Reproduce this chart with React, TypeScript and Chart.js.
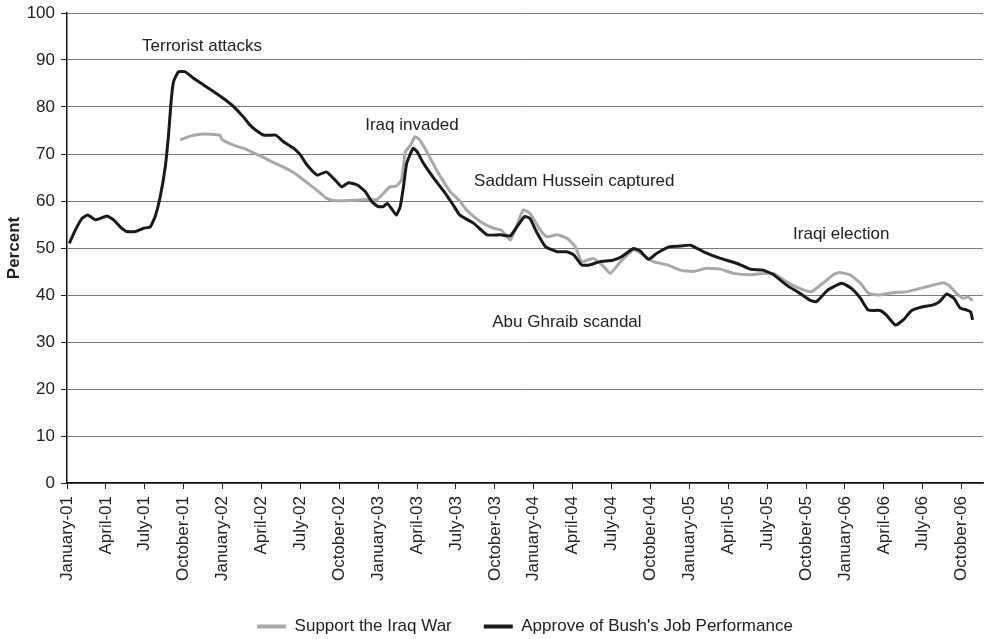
import React, { useEffect, useRef } from "react";
import { Chart, registerables } from "chart.js";

Chart.register(...registerables);

// Months elapsed since January 2001
const tickMonths = [0, 3, 6, 9, 12, 15, 18, 21, 24, 27, 30, 33, 36, 39, 42, 45, 48, 51, 54, 57, 60, 63, 66, 69];
const tickLabels = [
  "January-01", "April-01", "July-01", "October-01",
  "January-02", "April-02", "July-02", "October-02",
  "January-03", "April-03", "July-03", "October-03",
  "January-04", "April-04", "July-04", "October-04",
  "January-05", "April-05", "July-05", "October-05",
  "January-06", "April-06", "July-06", "October-06",
];

const yTicksMax = 100;

// [month since Jan-01, percent]
const approveSeries: [number, number][] = [
  [0.18, 51.0], [0.64, 53.8], [1.16, 56.3], [1.59, 57.0], [2.18, 56.0], [2.57, 56.3], [3.08, 56.8],
  [3.6, 56.0], [4.1, 54.5], [4.63, 53.5], [5.27, 53.5], [5.9, 54.2], [6.42, 54.5], [6.8, 56.7],
  [7.19, 60.9], [7.58, 67.3], [7.84, 74.4], [8.04, 81.5], [8.22, 85.4], [8.6, 87.5], [9.12, 87.5],
  [9.76, 86.1], [10.53, 84.7], [11.3, 83.3], [12.07, 81.8], [12.85, 80.1], [13.6, 77.9], [14.1, 76.2],
  [14.6, 75.0], [15.2, 74.0], [16.1, 74.0], [16.7, 72.6], [17.5, 71.2], [18.0, 69.8], [18.5, 67.7],
  [19.3, 65.5], [20.0, 66.2], [20.8, 64.1], [21.2, 63.0], [21.7, 63.9], [22.4, 63.4], [23.0, 62.0],
  [23.5, 59.9], [24.0, 58.8], [24.4, 58.8], [24.7, 59.5], [25.1, 58.1], [25.4, 57.0], [25.7, 58.8],
  [25.95, 63.0], [26.2, 68.0], [26.7, 71.2], [27.0, 70.5], [27.5, 68.0], [28.3, 64.8], [29.0, 62.3],
  [29.8, 59.1], [30.3, 57.0], [31.35, 55.3], [32.4, 52.8], [33.4, 52.8], [34.2, 52.6], [34.7, 54.5],
  [35.3, 56.7], [35.7, 56.3], [36.2, 53.5], [36.9, 50.3], [37.8, 49.2], [38.55, 49.2], [39.1, 48.5],
  [39.7, 46.4], [40.3, 46.4], [41.1, 47.1], [42.1, 47.4], [42.8, 48.2], [43.7, 49.9], [44.2, 49.4],
  [44.85, 47.6], [45.5, 48.9], [46.5, 50.3], [47.3, 50.4], [48.1, 50.6], [49.1, 49.2], [50.4, 47.8],
  [51.7, 46.7], [52.7, 45.5], [53.7, 45.3], [54.5, 44.3], [55.5, 42.1], [56.5, 40.4], [57.3, 38.9],
  [57.8, 38.6], [58.7, 41.1], [59.75, 42.5], [60.5, 41.4], [61.2, 39.3], [61.8, 36.8], [62.7, 36.7],
  [63.2, 35.7], [63.9, 33.6], [64.5, 34.7], [65.15, 36.7], [66.0, 37.5], [66.8, 37.9], [67.3, 38.6],
  [67.85, 40.2], [68.4, 39.3], [68.9, 37.2], [69.4, 36.8], [69.7, 36.4], [69.85, 34.7],
];

const supportSeries: [number, number][] = [
  [8.73, 73.0], [9.5, 73.8], [10.28, 74.2], [11.05, 74.2], [11.8, 74.0], [11.95, 73.1], [12.85, 71.9],
  [13.9, 70.9], [14.9, 69.6], [15.7, 68.5], [16.7, 67.2], [17.5, 66.0], [18.0, 65.0], [18.8, 63.3],
  [19.5, 61.8], [20.0, 60.6], [20.6, 60.1], [21.8, 60.1], [23.1, 60.3], [23.9, 60.3], [24.4, 61.6],
  [24.9, 63.0], [25.4, 63.2], [25.8, 64.5], [26.1, 70.5], [26.5, 71.9], [26.85, 73.7], [27.2, 73.0],
  [27.75, 70.5], [28.5, 66.6], [28.8, 65.2], [29.55, 62.0], [30.3, 60.0], [30.8, 58.1], [31.9, 55.6],
  [32.9, 54.2], [33.5, 53.8], [34.2, 51.7], [34.7, 54.9], [35.2, 58.1], [35.7, 57.4], [36.5, 53.8],
  [37.0, 52.4], [37.8, 52.8], [38.55, 52.1], [39.2, 50.3], [39.7, 47.1], [40.6, 47.8], [41.4, 46.0],
  [41.9, 44.6], [42.7, 47.1], [43.7, 49.6], [44.5, 48.4], [45.2, 47.1], [46.3, 46.4], [47.3, 45.3],
  [48.3, 45.0], [49.3, 45.7], [50.4, 45.5], [51.4, 44.6], [52.7, 44.3], [53.7, 44.6], [54.5, 44.6],
  [55.5, 42.8], [56.5, 41.4], [57.4, 40.7], [58.3, 42.5], [59.1, 44.3], [59.6, 44.8], [60.4, 44.3],
  [61.2, 42.5], [61.8, 40.4], [62.7, 40.0], [63.7, 40.5], [64.8, 40.7], [65.8, 41.4], [66.8, 42.1],
  [67.6, 42.6], [68.0, 42.1], [68.6, 40.4], [69.1, 39.3], [69.5, 39.6], [69.85, 38.8],
];

const annotationTexts = ["Terrorist attacks", "Iraq invaded", "Saddam Hussein captured", "Iraqi election", "Abu Ghraib scandal"];
const annotationMonths = [5.79, 23.0, 31.4, 56.0, 32.8];
const annotationValues = [93.0, 76.2, 64.1, 53.0, 34.1];

const FONT = "'Liberation Sans', Arial, Helvetica, sans-serif";

export default function App() {
  const ref = useRef<HTMLCanvasElement | null>(null);

  useEffect(() => {
    if (!ref.current) return;
    const eventLabels = {
      id: "eventLabels",
      afterDatasetsDraw(chart: any) {
        const { ctx, scales } = chart;
        ctx.save();
        ctx.font = `17px ${FONT}`;
        ctx.fillStyle = "#222";
        ctx.textAlign = "left";
        ctx.textBaseline = "middle";
        annotationTexts.forEach((t, i) => {
          ctx.fillText(t, scales.x.getPixelForValue(annotationMonths[i]), scales.y.getPixelForValue(annotationValues[i]));
        });
        ctx.restore();
      },
    };

    const chart = new Chart(ref.current, {
      type: "line",
      data: {
        datasets: [
          {
            label: "Support the Iraq War",
            data: supportSeries.map(([x, y]) => ({ x, y })),
            borderColor: "#a9a9a9",
            backgroundColor: "#a9a9a9",
            borderWidth: 3,
            pointRadius: 0,
            tension: 0.15,
            order: 1,
          },
          {
            label: "Approve of Bush's Job Performance",
            data: approveSeries.map(([x, y]) => ({ x, y })),
            borderColor: "#1a1a1a",
            backgroundColor: "#1a1a1a",
            borderWidth: 3,
            pointRadius: 0,
            tension: 0.15,
            order: 0,
          },
        ],
      },
      options: {
        responsive: false,
        animation: false,
        layout: { padding: { top: 13, right: 2, left: 0, bottom: 0 } },
        plugins: {
          tooltip: { enabled: false },
          legend: {
            position: "bottom",
            fullSize: false,
            labels: {
              boxWidth: 29,
              boxHeight: 4,
              padding: 32,
              color: "#222",
              font: { family: FONT, size: 17 },
              sort: (a: any, b: any) => a.datasetIndex - b.datasetIndex,
              generateLabels: (c: any) =>
                (Chart.defaults as any).plugins.legend.labels.generateLabels(c).map((l: any) => ({ ...l, lineWidth: 0 })),
            },
          },
        },
        scales: {
          x: {
            type: "linear",
            min: 0,
            max: 70.65,
            afterBuildTicks: (s: any) => {
              s.ticks = tickMonths.map((v) => ({ value: v }));
            },
            afterFit: (s: any) => {
              s.height = 103;
              s.paddingLeft = 0;
              s.paddingRight = 0;
            },
            ticks: {
              autoSkip: false,
              maxRotation: 90,
              minRotation: 90,
              padding: 7,
              color: "#222",
              font: { family: FONT, size: 17 },
              callback: (v: any) => {
                const i = tickMonths.indexOf(Number(v));
                return i >= 0 ? tickLabels[i] : "";
              },
            },
            grid: { drawOnChartArea: false, tickLength: 6, color: "#222" },
            border: { color: "#111", width: 1.5 },
          },
          y: {
            min: 0,
            max: yTicksMax,
            ticks: { stepSize: 10, padding: 6, color: "#222", font: { family: FONT, size: 17 } },
            grid: { color: "#7a7a7a", tickLength: 6, tickColor: "#222" },
            border: { color: "#111", width: 1.5 },
            title: {
              display: true,
              text: "Percent",
              color: "#222",
              font: { family: FONT, size: 17, weight: "bold" },
              padding: { top: 4, bottom: 0 },
            },
            afterFit: (s: any) => {
              s.width = 67;
              s.paddingTop = 0;
              s.paddingBottom = 0;
            },
          },
        },
      },
      plugins: [eventLabels],
    } as any);

    return () => chart.destroy();
  }, []);

  return (
    <div style={{ position: "fixed", left: 0, top: 0, width: 985, height: 645, background: "#fff" }}>
      <canvas ref={ref} width={985} height={645} style={{ display: "block" }} />
    </div>
  );
}
